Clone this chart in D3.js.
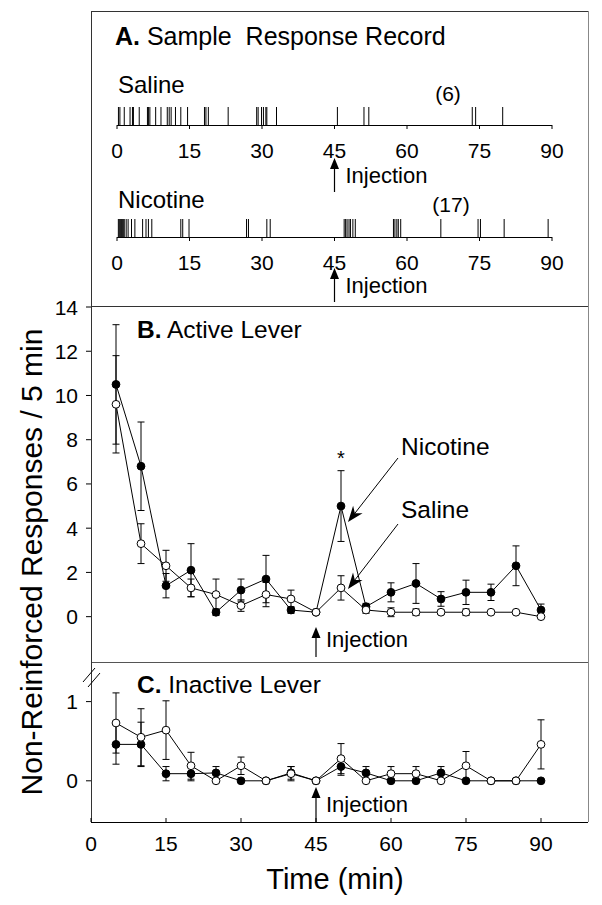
<!DOCTYPE html>
<html><head><meta charset="utf-8">
<script src="https://cdn.jsdelivr.net/npm/d3@7"></script>
<style>
body{margin:0;background:#fff}
svg{display:block}
text{font-family:"Liberation Sans",Arial,Helvetica,sans-serif;fill:#000}
</style>
</head><body>
<svg id="c" width="602" height="905"></svg>
<script>
// ---------------- DATA ----------------
const times = [5,10,15,20,25,30,35,40,45,50,55,60,65,70,75,80,85,90];
const activeNicotine    = [10.5,6.8,1.4,2.1,0.2,1.2,1.7,0.3,0.2,5.0,0.45,1.1,1.5,0.8,1.1,1.1,2.3,0.3];
const activeNicotineSem = [2.7,2.0,0.55,1.2,0.15,0.5,1.07,0.15,0,1.6,0.15,0.43,0.9,0.33,0.55,0.37,0.9,0.27];
const activeSaline      = [9.6,3.3,2.3,1.3,1.0,0.5,1.0,0.8,0.2,1.3,0.3,0.2,0.2,0.2,0.2,0.2,0.2,0.0];
const activeSalineSem   = [2.2,0.9,0.7,0.4,0.7,0.26,0.55,0.4,0,0.55,0.15,0.2,0.15,0.1,0.15,0.05,0.05,0.05];
const inactiveNicotine    = [0.46,0.46,0.09,0.09,0.1,0,0,0.1,0,0.18,0.1,0,0,0.1,0,0,0,0];
const inactiveNicotineSem = [0.25,0.28,0.09,0.09,0.08,0,0,0.08,0,0.11,0.08,0,0,0.08,0,0,0,0];
const inactiveSaline      = [0.73,0.55,0.64,0.19,0,0.19,0,0.09,0,0.28,0,0.09,0.09,0,0.19,0,0,0.46];
const inactiveSalineSem   = [0.38,0.36,0.37,0.17,0,0.11,0,0.09,0,0.19,0,0.09,0.09,0,0.18,0,0,0.31];
const salineEvents = [0.3,0.6,1.5,2.7,3.2,3.4,4.6,6.3,6.5,6.8,8.0,9.1,10.4,10.8,11.2,12.1,13.2,14.6,
  18.1,18.4,18.9,23.0,28.9,29.2,29.9,30.3,30.8,31.0,33.0,45.6,51.1,52.1,73.5,74.2,79.8];
const nicotineEvents = [0.28,0.48,0.69,0.9,1.1,1.3,1.5,1.9,2.3,3.0,3.7,5.3,6.0,6.5,7.2,13.2,13.6,14.9,
  26.8,27.2,31.0,31.7,47.0,47.3,47.6,48.0,48.3,48.8,49.3,57.2,57.5,57.9,58.2,58.7,67.0,74.7,75.2,80.1,89.2];
const xTicks = [0,15,30,45,60,75,90];
const yTicksActive = [0,2,4,6,8,10,12,14];
const yTicksInactive = [0,1];
const salineCount = "(6)";
const nicotineCount = "(17)";

// ---------------- LAYOUT ----------------
const svg = d3.select("#c");
const L = 91, R = 588, TOP = 11, SEP1 = 306, SEP2 = 662, BOT = 822;
const x = d3.scaleLinear().domain([0, 99.4]).range([L, R]);
const yB = d3.scaleLinear().domain([-2.05, 14]).range([SEP2, 307]);
const yC = d3.scaleLinear().domain([-0.52, 1.5]).range([BOT, SEP2]);
const xr = d3.scaleLinear().domain([0, 90]).range([117, 552]);

const frame = svg.append("g").attr("stroke", "#333").attr("stroke-width", 1).attr("fill", "none");
frame.append("line").attr("x1", L).attr("x2", R).attr("y1", TOP + .5).attr("y2", TOP + .5);
frame.append("line").attr("x1", R + .5).attr("x2", R + .5).attr("y1", TOP).attr("y2", BOT).attr("stroke", "#888");
frame.append("line").attr("x1", L).attr("x2", R).attr("y1", SEP1 + .5).attr("y2", SEP1 + .5);
frame.append("line").attr("x1", L).attr("x2", R).attr("y1", SEP2 + .5).attr("y2", SEP2 + .5).attr("stroke", "#555");
frame.append("line").attr("x1", L + .5).attr("x2", L + .5).attr("y1", TOP).attr("y2", BOT);

// ---------------- PANEL A ----------------
const A = svg.append("g");
const tA = A.append("text").attr("x", 115).attr("y", 45).attr("font-size", 25).attr("xml:space", "preserve");
tA.append("tspan").attr("font-weight", "bold").text("A.");
tA.append("tspan").text(" Sample  Response Record");

function raster(events, axisY, name, nameY, count, countX, countY, labelY, arrowTip, arrowBot, injY) {
  A.append("text").attr("x", 118).attr("y", nameY).attr("font-size", 24).text(name);
  A.append("text").attr("x", countX).attr("y", countY).attr("font-size", 21).attr("text-anchor", "middle").text(count);
  A.append("line").attr("x1", xr(0)).attr("x2", xr(90)).attr("y1", axisY + .5).attr("y2", axisY + .5)
    .attr("stroke", "#000").attr("stroke-width", 1);
  A.append("g").selectAll("line").data(xTicks).join("line")
    .attr("x1", d => xr(d)).attr("x2", d => xr(d)).attr("y1", axisY).attr("y2", axisY + 4)
    .attr("stroke", "#000").attr("stroke-width", 1);
  A.append("g").selectAll("line").data(events).join("line")
    .attr("x1", d => xr(d)).attr("x2", d => xr(d)).attr("y1", axisY).attr("y2", axisY - 18)
    .attr("stroke", "#000").attr("stroke-width", 1);
  A.append("g").selectAll("text").data(xTicks).join("text")
    .attr("x", d => xr(d)).attr("y", labelY).attr("font-size", 21).attr("text-anchor", "middle").text(d => d);
  arrow(A, xr(45), arrowTip, arrowBot);
  A.append("text").attr("x", xr(45) + 11).attr("y", injY).attr("font-size", 22).text("Injection");
}
function arrow(g, ax, tip, bot) {
  g.append("line").attr("x1", ax).attr("x2", ax).attr("y1", tip + 8).attr("y2", bot)
    .attr("stroke", "#000").attr("stroke-width", 1.2);
  g.append("path").attr("d", `M${ax},${tip} L${ax - 4.5},${tip + 11} L${ax + 4.5},${tip + 11} Z`).attr("fill", "#000");
}
raster(salineEvents, 125, "Saline", 93, salineCount, 448, 101, 158, 158, 192, 183);
raster(nicotineEvents, 237, "Nicotine", 208, nicotineCount, 451, 212, 270, 268, 302, 293);

// ---------------- AXES B/C ----------------
const axG = svg.append("g");
axG.append("g").selectAll("line").data(yTicksActive).join("line")
  .attr("x1", L - 5).attr("x2", L).attr("y1", d => yB(d)).attr("y2", d => yB(d)).attr("stroke", "#000");
axG.append("g").selectAll("text").data(yTicksActive).join("text")
  .attr("x", 78).attr("y", d => yB(d) + 7.5).attr("font-size", 21).attr("text-anchor", "end").text(d => d);
axG.append("g").selectAll("line").data(yTicksInactive).join("line")
  .attr("x1", L - 5).attr("x2", L).attr("y1", d => yC(d)).attr("y2", d => yC(d)).attr("stroke", "#000");
axG.append("g").selectAll("text").data(yTicksInactive).join("text")
  .attr("x", 78).attr("y", d => yC(d) + 7.5).attr("font-size", 21).attr("text-anchor", "end").text(d => d);
// bottom axis
axG.append("line").attr("x1", L).attr("x2", R).attr("y1", BOT + .5).attr("y2", BOT + .5).attr("stroke", "#000");
axG.append("g").selectAll("line").data(xTicks).join("line")
  .attr("x1", d => x(d)).attr("x2", d => x(d)).attr("y1", BOT).attr("y2", BOT - 4).attr("stroke", "#000");
axG.append("g").selectAll("text").data(xTicks).join("text")
  .attr("x", d => x(d)).attr("y", 851).attr("font-size", 21).attr("text-anchor", "middle").text(d => d);
// axis break
[0, 5].forEach(o => axG.append("line").attr("x1", 83 + o).attr("y1", 682 + o).attr("x2", 95 + o).attr("y2", 668 + o)
  .attr("stroke", "#000").attr("stroke-width", 1));

svg.append("text").attr("transform", "translate(42,562) rotate(-90)").attr("text-anchor", "middle")
  .attr("font-size", 30).text("Non-Reinforced Responses / 5 min");
svg.append("text").attr("x", 335).attr("y", 889).attr("text-anchor", "middle").attr("font-size", 29).text("Time (min)");

// ---------------- SERIES ----------------
function series(y, vals, sems) {
  const g = svg.append("g");
  const pts = times.map((t, i) => ({t, v: vals[i], s: sems[i]}));
  g.append("path").datum(pts).attr("fill", "none").attr("stroke", "#000").attr("stroke-width", 1)
    .attr("d", d3.line().x(d => x(d.t)).y(d => y(d.v)));
  const eb = g.append("g").attr("stroke", "#000").attr("stroke-width", 1);
  pts.filter(d => d.s > 0).forEach(d => {
    const cx = x(d.t), hi = y(d.v + d.s), lo = y(d.v - d.s);
    eb.append("line").attr("x1", cx).attr("x2", cx).attr("y1", hi).attr("y2", lo);
    eb.append("line").attr("x1", cx - 3.5).attr("x2", cx + 3.5).attr("y1", hi).attr("y2", hi);
    eb.append("line").attr("x1", cx - 3.5).attr("x2", cx + 3.5).attr("y1", lo).attr("y2", lo);
  });
  return {g, pts};
}
function markers(s, y, filled) {
  s.g.append("g").selectAll("circle").data(s.pts).join("circle")
    .attr("cx", d => x(d.t)).attr("cy", d => y(d.v)).attr("r", 3.9)
    .attr("fill", filled ? "#000" : "#fff").attr("stroke", "#000").attr("stroke-width", 1);
}
const bn = series(yB, activeNicotine, activeNicotineSem);
const bs = series(yB, activeSaline, activeSalineSem);
markers(bn, yB, true); markers(bs, yB, false);
const cn = series(yC, inactiveNicotine, inactiveNicotineSem);
const cs = series(yC, inactiveSaline, inactiveSalineSem);
markers(cn, yC, true); markers(cs, yC, false);

// ---------------- ANNOTATIONS ----------------
const ann = svg.append("g");
ann.append("text").attr("x", 137).attr("y", 338).attr("font-size", 24.5).call(t => {
  t.append("tspan").attr("font-weight", "bold").text("B.");
  t.append("tspan").text(" Active Lever");
});
ann.append("text").attr("x", 137).attr("y", 693).attr("font-size", 24.5).call(t => {
  t.append("tspan").attr("font-weight", "bold").text("C.");
  t.append("tspan").text(" Inactive Lever");
});
arrow(ann, x(45), 627, 657);
ann.append("text").attr("x", x(45) + 10).attr("y", 647).attr("font-size", 22).text("Injection");
arrow(ann, x(45), 787, BOT);
ann.append("text").attr("x", x(45) + 10).attr("y", 812).attr("font-size", 22).text("Injection");
ann.append("text").attr("x", x(50)).attr("y", 465).attr("font-size", 20).attr("text-anchor", "middle").text("*");

function pointer(x1, y1, x2, y2) {
  const ang = Math.atan2(y2 - y1, x2 - x1), len = 16, w = 6;
  const bx = x2 - len * Math.cos(ang), by = y2 - len * Math.sin(ang);
  const nx = -Math.sin(ang), ny = Math.cos(ang);
  const mx = x2 - len * 0.7 * Math.cos(ang), my = y2 - len * 0.7 * Math.sin(ang);
  ann.append("line").attr("x1", x1).attr("y1", y1).attr("x2", mx).attr("y2", my).attr("stroke", "#000").attr("stroke-width", 1);
  ann.append("path").attr("d", `M${x2},${y2} L${bx + nx * w},${by + ny * w} L${mx},${my} L${bx - nx * w},${by - ny * w} Z`).attr("fill", "#000");
}
ann.append("text").attr("x", 401).attr("y", 455).attr("font-size", 24.5).text("Nicotine");
ann.append("text").attr("x", 401).attr("y", 518).attr("font-size", 24.5).text("Saline");
pointer(398, 458, x(50) + 7, yB(activeNicotine[9]) + 16);
pointer(398, 524, x(50) + 7, yB(activeSaline[9]) + 1);
</script>
</body></html>
